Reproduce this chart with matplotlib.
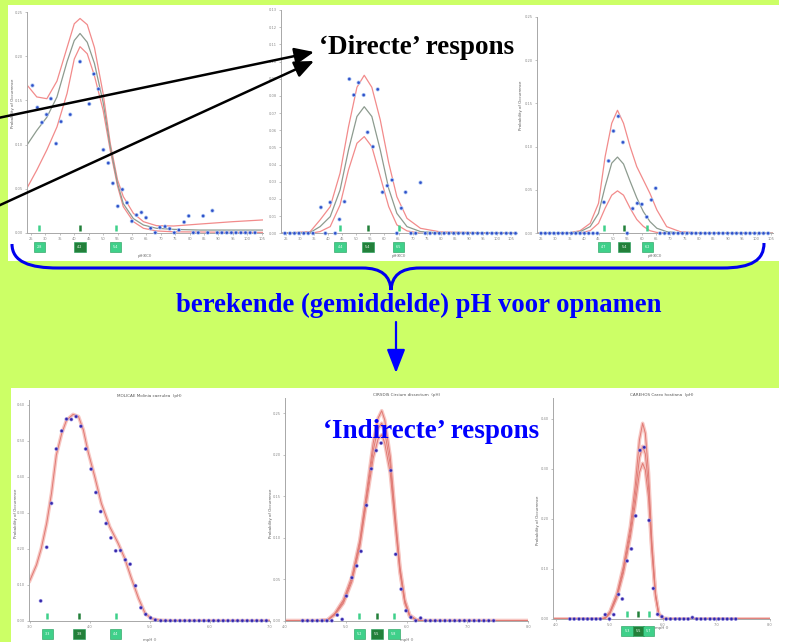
import matplotlib.pyplot as plt
from matplotlib.patches import Rectangle, PathPatch, FancyArrowPatch
from matplotlib.path import Path
from matplotlib.transforms import offset_copy

W, H = 786, 642

# ---- top row: response along pH(KCl) (x10) -------------------------------
t1_px = [25.5, 27.2, 28.8, 30.4, 31.9, 33.7, 35.4, 38.6, 42.0, 45.2, 46.8, 48.4,
         50.1, 51.8, 53.4, 55.1, 56.7, 58.3, 60.0, 61.6, 63.3, 64.9, 66.5, 68.1,
         69.7, 71.5, 73.1, 74.7, 76.3, 78.1, 79.7, 81.3, 83.0, 84.7, 86.3, 87.9,
         89.6, 91.2, 92.9, 94.5, 96.1, 97.8, 99.4, 101.0, 102.7]
t1_py = [0.167, 0.142, 0.125, 0.134, 0.152, 0.101, 0.126, 0.134, 0.194, 0.146,
         0.180, 0.163, 0.094, 0.079, 0.056, 0.030, 0.049, 0.034, 0.013, 0.020,
         0.023, 0.017, 0.005, 0.0, 0.006, 0.007, 0.0045, 0.0, 0.003, 0.012,
         0.019, 0.0, 0.0, 0.019, 0.0, 0.025, 0.0, 0.0, 0.0, 0.0, 0.0, 0.0,
         0.0, 0.0, 0.0]
t1_cx = [23.5, 27.0, 30.5, 34.0, 37.5, 40.0, 42.0, 44.5, 47.0, 50.0, 52.5,
         55.0, 57.0, 60.5, 64.0, 68.5, 74.5, 83.5, 95.0, 105.5]
t1_hi = [0.168, 0.154, 0.152, 0.172, 0.210, 0.237, 0.243, 0.236, 0.210, 0.158,
         0.101, 0.060, 0.041, 0.022, 0.0125, 0.008, 0.0076, 0.0098, 0.0125, 0.0145]
t1_mid = [0.099, 0.116, 0.131, 0.154, 0.194, 0.218, 0.226, 0.216, 0.192, 0.148,
          0.097, 0.056, 0.033, 0.016, 0.0087, 0.005, 0.0038, 0.003, 0.003, 0.003]
t1_lo = [0.050, 0.071, 0.094, 0.120, 0.158, 0.197, 0.211, 0.203, 0.178, 0.139,
         0.093, 0.053, 0.0295, 0.0125, 0.005, 0.002, 0.001, 0.0008, 0.0005, 0.0004]
t1_marks = [27.9, 42.0, 54.4]

t2_px = [24.6, 26.4, 28.0, 29.6, 31.3, 32.9, 34.6, 37.4, 39.0, 40.7, 42.5, 44.0,
         45.8, 47.5, 49.1, 50.8, 52.6, 54.0, 55.9, 57.6, 59.3, 61.0, 62.7, 64.4,
         66.0, 67.5, 69.4, 71.1, 72.8, 74.5, 76.2, 77.9, 79.5, 81.2, 82.9, 84.6,
         86.3, 88.0, 89.6, 91.4, 93.1, 94.7, 96.5, 98.2, 99.8, 101.5, 103.3,
         104.9, 106.6]
t2_py = [0.0, 0.0, 0.0, 0.0, 0.0, 0.0, 0.0, 0.0151, 0.0, 0.018, 0.0, 0.0081,
         0.0184, 0.0898, 0.0805, 0.0877, 0.0805, 0.0588, 0.0504, 0.0838, 0.0239,
         0.0277, 0.031, 0.0, 0.0146, 0.0239, 0.0, 0.0, 0.0295, 0.0, 0.0, 0.0,
         0.0, 0.0, 0.0, 0.0, 0.0, 0.0, 0.0, 0.0, 0.0, 0.0, 0.0, 0.0, 0.0, 0.0,
         0.0, 0.0, 0.0]
t2_cx = [23.1, 33.6, 37.1, 40.7, 44.2, 47.2, 50.2, 52.8, 55.5, 58.5, 61.5,
         64.4, 68.0, 72.8, 79.9, 107.0]
t2_hi = [0.0, 0.001, 0.0078, 0.0155, 0.035, 0.062, 0.085, 0.092, 0.085, 0.066,
         0.041, 0.0213, 0.0087, 0.0029, 0.0008, 0.0]
t2_mid = [0.0, 0.0005, 0.0039, 0.0097, 0.0252, 0.0485, 0.068, 0.0737, 0.068,
          0.0485, 0.026, 0.0116, 0.0039, 0.001, 0.0002, 0.0]
t2_lo = [0.0, 0.0, 0.001, 0.0039, 0.0165, 0.0369, 0.0524, 0.0563, 0.0504,
         0.033, 0.0155, 0.0049, 0.0014, 0.0, 0.0, 0.0]
t2_marks = [44.2, 54.1, 65.0]

t3_px = [25.0, 26.5, 28.0, 29.5, 31.0, 32.5, 34.0, 35.6, 37.1, 38.6, 40.1, 41.6,
         43.1, 44.6, 46.9, 48.5, 50.2, 51.9, 53.5, 55.0, 56.9, 58.5, 60.1, 61.8,
         63.4, 64.9, 66.4, 68.0, 69.5, 71.1, 72.7, 74.2, 75.8, 77.4, 78.9, 80.5,
         82.1, 83.6, 85.2, 86.8, 88.3, 89.9, 91.5, 93.0, 94.6, 96.2, 97.7, 99.3,
         100.9, 102.4, 104.0]
t3_py = [0.0, 0.0, 0.0, 0.0, 0.0, 0.0, 0.0, 0.0, 0.0, 0.0, 0.0, 0.0, 0.0, 0.0,
         0.0358, 0.0835, 0.118, 0.135, 0.105, 0.0, 0.0285, 0.0346, 0.0335,
         0.0188, 0.0385, 0.052, 0.0, 0.0, 0.0, 0.0, 0.0, 0.0, 0.0, 0.0, 0.0,
         0.0, 0.0, 0.0, 0.0, 0.0, 0.0, 0.0, 0.0, 0.0, 0.0, 0.0, 0.0, 0.0, 0.0,
         0.0, 0.0]
t3_cx = [23.5, 35.1, 38.6, 42.1, 45.0, 47.3, 49.6, 51.6, 53.7, 56.0, 58.3,
         60.6, 62.9, 65.3, 68.7, 73.4, 80.3, 105.8]
t3_hi = [0.0, 0.0008, 0.003, 0.0115, 0.0346, 0.0885, 0.127, 0.142, 0.127, 0.100,
         0.077, 0.0615, 0.046, 0.027, 0.0077, 0.0019, 0.0004, 0.0]
t3_mid = [0.0, 0.0004, 0.0019, 0.0077, 0.023, 0.054, 0.081, 0.088, 0.080, 0.060,
          0.041, 0.025, 0.0135, 0.0058, 0.0019, 0.0004, 0.0, 0.0]
t3_lo = [0.0, 0.0, 0.0004, 0.003, 0.0115, 0.029, 0.044, 0.049, 0.044, 0.029,
         0.016, 0.008, 0.003, 0.001, 0.0003, 0.0, 0.0, 0.0]
t3_marks = [46.9, 53.9, 62.0]

top_xticks = [25, 30, 35, 40, 45, 50, 55, 60, 65, 70, 75, 80, 85, 90, 95, 100, 105]

# ---- bottom row: response along mean pH of the releve ----------------------
b1_title = "MOLICAE Molinia caerulea  (pH)"
b1_px = [3.18, 3.28, 3.36, 3.44, 3.53, 3.61, 3.69, 3.77, 3.85, 3.93, 4.02, 4.10,
         4.18, 4.27, 4.35, 4.43, 4.51, 4.59, 4.67, 4.76, 4.85, 4.93, 5.01, 5.09,
         5.18, 5.26, 5.34, 5.42, 5.50, 5.58, 5.66, 5.74, 5.82, 5.90, 5.98, 6.06,
         6.14, 6.22, 6.30, 6.38, 6.46, 6.54, 6.62, 6.70, 6.78, 6.86, 6.94]
b1_py = [0.055, 0.204, 0.326, 0.477, 0.527, 0.560, 0.559, 0.567, 0.540, 0.477,
         0.421, 0.356, 0.303, 0.270, 0.230, 0.194, 0.195, 0.169, 0.157, 0.097,
         0.036, 0.0176, 0.008, 0.002, 0.0, 0.0, 0.0, 0.0, 0.0, 0.0, 0.0, 0.0,
         0.0, 0.0, 0.0, 0.0, 0.0, 0.0, 0.0, 0.0, 0.0, 0.0, 0.0, 0.0, 0.0, 0.0,
         0.0]
b1_cx = [2.99, 3.11, 3.19, 3.28, 3.36, 3.44, 3.53, 3.61, 3.72, 3.81, 3.89, 3.97,
         4.08, 4.19, 4.33, 4.47, 4.58, 4.69, 4.81, 4.92, 5.03, 5.17, 5.39, 7.0]
b1_cy = [0.108, 0.155, 0.201, 0.271, 0.354, 0.460, 0.520, 0.557, 0.573, 0.567,
         0.530, 0.469, 0.400, 0.326, 0.261, 0.215, 0.173, 0.118, 0.062, 0.020,
         0.0056, 0.001, 0.0, 0.0]
b1_marks = [3.29, 3.82, 4.43]

b2_title = "CIRSDIS Cirsium dissectum  (pH)"
b2_px = [4.29, 4.37, 4.45, 4.53, 4.61, 4.69, 4.77, 4.86, 4.94, 5.01, 5.10, 5.18,
         5.25, 5.34, 5.42, 5.50, 5.58, 5.74, 5.82, 5.91, 5.99, 6.07, 6.15, 6.23,
         6.31, 6.39, 6.47, 6.55, 6.63, 6.71, 6.79, 6.87, 6.95, 7.03, 7.11, 7.19,
         7.27, 7.35, 7.43]
b2_py = [0.0, 0.0, 0.0, 0.0, 0.0, 0.0, 0.0, 0.0068, 0.0016, 0.0297, 0.0518,
         0.066, 0.0836, 0.139, 0.183, 0.205, 0.214, 0.181, 0.080, 0.038, 0.012,
         0.004, 0.0, 0.0032, 0.0, 0.0, 0.0, 0.0, 0.0, 0.0, 0.0, 0.0, 0.0, 0.0,
         0.0, 0.0, 0.0, 0.0, 0.0]
b2_cx = [4.0, 4.55, 4.7, 4.82, 4.96, 5.10, 5.23, 5.34, 5.45, 5.53, 5.59, 5.64,
         5.73, 5.81, 5.89, 5.97, 6.05, 6.16, 6.3, 8.0]
b2_hi = [0, 0, 0.001, 0.009, 0.025, 0.053, 0.097, 0.154, 0.214, 0.244, 0.253,
         0.242, 0.198, 0.129, 0.065, 0.025, 0.007, 0.001, 0, 0]
b2_mid = [0, 0, 0.001, 0.008, 0.023, 0.050, 0.093, 0.149, 0.205, 0.232, 0.238,
          0.228, 0.188, 0.123, 0.061, 0.023, 0.006, 0.001, 0, 0]
b2_lo = [0, 0, 0.0005, 0.007, 0.021, 0.047, 0.089, 0.143, 0.196, 0.219, 0.224,
         0.214, 0.178, 0.117, 0.058, 0.021, 0.005, 0.0005, 0, 0]
b2_marks = [5.22, 5.51, 5.79]

b3_title = "CAREHOS Carex hostiana  (pH)"
b3_px = [4.26, 4.34, 4.43, 4.51, 4.59, 4.67, 4.75, 4.83, 4.92, 5.00, 5.08, 5.17,
         5.24, 5.33, 5.41, 5.49, 5.57, 5.65, 5.74, 5.82, 5.90, 5.98, 6.06, 6.14,
         6.23, 6.31, 6.39, 6.47, 6.55, 6.63, 6.71, 6.79, 6.88, 6.96, 7.04, 7.12,
         7.20, 7.28, 7.36]
b3_py = [0.0, 0.0, 0.0, 0.0, 0.0, 0.0, 0.0, 0.0, 0.0087, 0.0, 0.0087, 0.049,
         0.040, 0.116, 0.140, 0.206, 0.337, 0.343, 0.197, 0.061, 0.0093, 0.0047,
         0.0, 0.0, 0.0, 0.0, 0.0, 0.0, 0.003, 0.0, 0.0, 0.0, 0.0, 0.0, 0.0, 0.0,
         0.0, 0.0, 0.0]
b3_cx = [3.95, 4.83, 4.92, 5.01, 5.14, 5.26, 5.39, 5.48, 5.56, 5.62, 5.67, 5.73,
         5.79, 5.86, 5.92, 6.01, 6.2, 8.0]
b3_hi = [0, 0, 0.003, 0.015, 0.051, 0.105, 0.185, 0.265, 0.358, 0.391, 0.371,
         0.291, 0.158, 0.051, 0.011, 0.001, 0, 0]
b3_mid = [0, 0, 0.002, 0.013, 0.047, 0.098, 0.174, 0.245, 0.322, 0.345, 0.330,
          0.265, 0.148, 0.048, 0.010, 0.001, 0, 0]
b3_lo = [0, 0, 0.001, 0.011, 0.043, 0.092, 0.164, 0.228, 0.293, 0.311, 0.298,
         0.243, 0.138, 0.045, 0.009, 0.001, 0, 0]
b3_marks = [5.33, 5.54, 5.73]

GREEN_BG = '#ccff66'
GRID_GREY = '#a8a8a8'
TEXT_GREY = '#8a8a8a'
LIGHT_MARK = '#3fd08a'
DARK_MARK = '#23803a'

fig = plt.figure(figsize=(W / 100, H / 100), dpi=100)
fig.patch.set_facecolor('white')


def px_box(left, top, right, bottom):
    return [left / W, 1 - bottom / H, (right - left) / W, (bottom - top) / H]


# slide background and the two white screenshot areas
fig.add_artist(Rectangle((0, 0), 779 / W, 1, transform=fig.transFigure,
                         facecolor=GREEN_BG, edgecolor='none', zorder=-20))
fig.add_artist(Rectangle((8 / W, 1 - 261 / H), 778 / W, 256 / H,
                         transform=fig.transFigure, facecolor='white',
                         edgecolor='none', zorder=-19))
fig.add_artist(Rectangle((11 / W, 0), 775 / W, 1 - 388 / H,
                         transform=fig.transFigure, facecolor='white',
                         edgecolor='none', zorder=-19))


def base_axes(box, xlim, ylim, xticks, xlabels, yticks, ylabels):
    ax = fig.add_axes(px_box(*box))
    ax.patch.set_alpha(0)
    ax.set_xlim(*xlim)
    ax.set_ylim(*ylim)
    for side in ('top', 'right'):
        ax.spines[side].set_visible(False)
    for side in ('left', 'bottom'):
        ax.spines[side].set_color(GRID_GREY)
        ax.spines[side].set_linewidth(0.7)
    ax.set_xticks(xticks)
    ax.set_xticklabels(xlabels)
    ax.set_yticks(yticks)
    ax.set_yticklabels(ylabels)
    ax.tick_params(length=1.5, width=0.5, color=GRID_GREY, labelsize=2.6,
                   labelcolor=TEXT_GREY, pad=1.5)
    return ax


def optimum_marks(ax, xs, up, down, label_fmt):
    above = offset_copy(ax.get_xaxis_transform(), fig=fig, x=0, y=up, units='dots')
    below = offset_copy(ax.get_xaxis_transform(), fig=fig, x=0, y=-down, units='dots')
    for i, x in enumerate(xs):
        col = DARK_MARK if i == 1 else LIGHT_MARK
        ax.plot([x], [0], transform=above, marker='|', ms=4.5, mew=1.8,
                color=col, clip_on=False, zorder=4)
        ax.text(x, 0, label_fmt(x), transform=below, ha='center', va='center',
                fontsize=2.4, color='white', clip_on=False, zorder=4,
                bbox=dict(boxstyle='square,pad=0.9', facecolor=col,
                          edgecolor='#1e9a55', linewidth=0.4))


def ylabel_at(ax, xpix, ypix_center, box):
    left, top, right, bottom = box
    ax.set_ylabel('Probability of Occurrence', fontsize=2.8, color='#555555')
    ax.yaxis.set_label_coords((xpix - left) / (right - left),
                              (bottom - ypix_center) / (bottom - top))


def top_panel(box, xlim, ylim, yticks, px, py, cx, hi, mid, lo, marks, ylab):
    ax = base_axes(box, xlim, ylim, top_xticks, [str(v) for v in top_xticks],
                   yticks, [f'{v:.2f}' for v in yticks])
    ax.plot(cx, hi, color='#f28b8b', lw=0.9, zorder=2)
    ax.plot(cx, lo, color='#f28b8b', lw=0.9, zorder=2)
    ax.plot(cx, mid, color='#8d9b8f', lw=0.9, zorder=2)
    ax.scatter(px, py, s=9, color='#a9c4f2', edgecolors='none', zorder=3,
               clip_on=False)
    ax.scatter(px, py, s=3.5, color='#2f4fc8', edgecolors='none', zorder=3,
               clip_on=False)
    optimum_marks(ax, marks, 5, 14, lambda v: f'{v / 10:.1f}')
    ax.annotate('pH(KCl)', xy=(0.5, 0), xycoords='axes fraction',
                xytext=(0, -23), textcoords='offset pixels', ha='center',
                va='center', fontsize=2.8, color='#666666')
    if ylab is not None:
        ylabel_at(ax, ylab[0], ylab[1], box)
    return ax


def bottom_panel(box, xlim, ylim, xticks, yticks, px, py, cx, curves, marks,
                 title, xlab_drop, box_drop):
    ax = base_axes(box, xlim, ylim, xticks, [f'{v:.1f}' for v in xticks],
                   yticks, [f'{v:.2f}' for v in yticks])
    for c in curves:
        ax.plot(cx, c, color='#f7c6c2', lw=2.6, solid_capstyle='round', zorder=2)
    for c in curves:
        ax.plot(cx, c, color='#e07a74', lw=0.7, zorder=2)
    ax.scatter(px, py, s=8, color='#9d98e6', edgecolors='none', zorder=3,
               clip_on=False)
    ax.scatter(px, py, s=3.5, color='#3526a8', edgecolors='none', zorder=3,
               clip_on=False)
    optimum_marks(ax, marks, 5, box_drop, lambda v: f'{v:.1f}')
    ax.set_title(title, fontsize=3.0, color='#555555', pad=2)
    ax.annotate('mpH ()', xy=(0.5, 0), xycoords='axes fraction',
                xytext=(0, -xlab_drop), textcoords='offset pixels',
                ha='center', va='center', fontsize=2.8, color='#666666')
    return ax


box_t1 = (26.7, 12.3, 263.1, 232.7)
box_t2 = (280.7, 10.0, 516.7, 233.3)
box_t3 = (536.7, 16.7, 773.3, 233.3)
top_panel(box_t1, (23.5, 105.5), (0, 0.25), [0, 0.05, 0.10, 0.15, 0.20, 0.25],
          t1_px, t1_py, t1_cx, t1_hi, t1_mid, t1_lo, t1_marks, (15, 103))
top_panel(box_t2, (23.1, 107.0), (0, 0.13),
          [0, 0.01, 0.02, 0.03, 0.04, 0.05, 0.06, 0.07, 0.08, 0.09, 0.10,
           0.11, 0.12, 0.13],
          t2_px, t2_py, t2_cx, t2_hi, t2_mid, t2_lo, t2_marks, None)
top_panel(box_t3, (23.5, 105.8), (0, 0.25), [0, 0.05, 0.10, 0.15, 0.20, 0.25],
          t3_px, t3_py, t3_cx, t3_hi, t3_mid, t3_lo, t3_marks, (523, 105))

box_b1 = (29.3, 400.0, 270.0, 620.7)
box_b2 = (285.0, 398.3, 528.3, 620.7)
box_b3 = (553.3, 398.3, 770.0, 619.0)
ax = bottom_panel(box_b1, (2.99, 7.0), (0, 0.613), [3.0, 4.0, 5.0, 6.0, 7.0],
                  [0, 0.1, 0.2, 0.3, 0.4, 0.5, 0.6], b1_px, b1_py, b1_cx,
                  [b1_cy], b1_marks, b1_title, 19, 13)
ylabel_at(ax, 18, 513, box_b1)
ax = bottom_panel(box_b2, (4.0, 8.0), (0, 0.268), [4.0, 5.0, 6.0, 7.0, 8.0],
                  [0, 0.05, 0.10, 0.15, 0.20, 0.25], b2_px, b2_py, b2_cx,
                  [b2_hi, b2_mid, b2_lo], b2_marks, b2_title, 19, 13)
ylabel_at(ax, 273, 513, box_b2)
ax = bottom_panel(box_b3, (3.95, 8.0), (0, 0.441), [4.0, 5.0, 6.0, 7.0, 8.0],
                  [0, 0.1, 0.2, 0.3, 0.4], b3_px, b3_py, b3_cx,
                  [b3_hi, b3_mid, b3_lo], b3_marks, b3_title, 9, 12)
ylabel_at(ax, 540, 520, box_b3)

# ---- slide annotations drawn in pixel space on top of everything ----------
ov = fig.add_axes([0, 0, 1, 1], zorder=10)
ov.set_xlim(0, W)
ov.set_ylim(H, 0)
ov.axis('off')
ov.patch.set_alpha(0)

serif = ['Liberation Serif', 'DejaVu Serif']
for start, tip in [((-2, 118), (314, 52)), ((-2, 206), (314, 61))]:
    ov.add_patch(FancyArrowPatch(start, tip,
                                 arrowstyle='-|>,head_length=0.65,head_width=0.28',
                                 mutation_scale=18, color='black', lw=1.8,
                                 shrinkA=0, shrinkB=0))
ov.text(417, 48, '\u2018Directe\u2019 respons', family=serif, weight='bold',
        fontsize=19.5, color='black', ha='center', va='center')

brace = Path(
    [(12, 244), (12, 262), (30, 268), (58, 268),
     (362, 268),
     (382, 268), (390, 276), (391, 290),
     (392, 276), (400, 268), (420, 268),
     (722, 268),
     (752, 268), (764, 260), (764, 243)],
    [Path.MOVETO, Path.CURVE4, Path.CURVE4, Path.CURVE4,
     Path.LINETO,
     Path.CURVE4, Path.CURVE4, Path.CURVE4,
     Path.CURVE4, Path.CURVE4, Path.CURVE4,
     Path.LINETO,
     Path.CURVE4, Path.CURVE4, Path.CURVE4])
ov.add_patch(PathPatch(brace, facecolor='none', edgecolor='#0000ee', lw=2.2))

ov.text(419, 305, 'berekende (gemiddelde) pH voor opnamen', family=serif,
        weight='bold', fontsize=19.2, color='#0000ff', ha='center', va='center')
ov.add_patch(FancyArrowPatch((396, 322), (396, 373),
                             arrowstyle='-|>,head_length=0.9,head_width=0.35',
                             mutation_scale=16, color='#0000ff', lw=1.6,
                             shrinkA=0, shrinkB=0))
ov.text(431, 431, '\u2018Indirecte\u2019 respons', family=serif, weight='bold',
        fontsize=19.5, color='#0000ff', ha='center', va='center')

fig.savefig('out.png', dpi=100)
